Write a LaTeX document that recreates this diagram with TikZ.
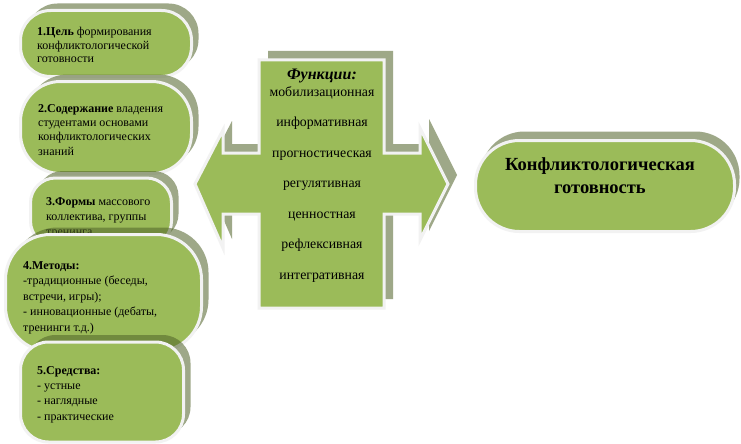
\documentclass[tikz,border=0pt]{standalone}
\usepackage{fontspec}
\setmainfont{Liberation Serif}
\usetikzlibrary{shadows}
\definecolor{boxgreen}{HTML}{9BBB59}
\definecolor{shadowgreen}{HTML}{4F6228}
\definecolor{rimgray}{HTML}{F2F2F2}
\tikzset{
  greenbox/.style={rectangle, fill=boxgreen, draw=rimgray, line width=3pt, inner sep=0pt},
  boxshadow/.style 2 args={general shadow={fill=shadowgreen, fill opacity=0.55, shadow xshift=#1, shadow yshift=#2}},
  boxtext/.style={anchor=north west, inner sep=0pt, align=left, font=\fontsize{12}{#1}\selectfont},
  crosstext/.style={anchor=base, inner sep=0pt, font=\fontsize{13.8}{16}\selectfont},
}
\begin{document}
\begin{tikzpicture}[x=1pt,y=-1pt]
\useasboundingbox[fill=white] (0,0) rectangle (741,444);

% left boxes
\node[greenbox, boxshadow={7pt}{7pt}, rounded corners=30pt, minimum width=171pt, minimum height=66pt] (b1) at (106,43.5) {};
\node[boxtext=13.5] (t1) at (37,27) {\textbf{1.Цель} формирования\\конфликтологической\\готовности};

\node[greenbox, boxshadow={7pt}{7pt}, rounded corners=40pt, minimum width=171pt, minimum height=92pt] (b2) at (106,127.5) {};
\node[boxtext=14.3] (t2) at (38,104) {\textbf{2.Содержание} владения\\студентами основами\\конфликтологических\\знаний};

\node[greenbox, boxshadow={7pt}{7pt}, rounded corners=25pt, minimum width=141pt, minimum height=68pt] (b3) at (101,212) {};
\node[boxtext=15] (t3) at (46,197) {\textbf{3.Формы} массового\\коллектива, группы\\тренинга};

\node[greenbox, boxshadow={7pt}{7pt}, rounded corners=45pt, minimum width=196pt, minimum height=117pt] (b4) at (103.5,293) {};
\node[boxtext=15.5] (t4) at (23,261) {\textbf{4.Методы:}\\-традиционные (беседы,\\встречи, игры);\\- инновационные (дебаты,\\тренинги т.д.)};

\node[greenbox, boxshadow={7pt}{7pt}, rounded corners=28pt, minimum width=163pt, minimum height=100pt] (b5) at (102,392) {};
\node[boxtext=15.3] (t5) at (37,366) {\textbf{5.Средства:}\\- устные\\- наглядные\\- практические};

% central double arrow cross
\def\crosspath{(259,60) -- (384,60) -- (384,153) -- (420,153) -- (420,128) -- (448,184) -- (420,240) -- (420,214) -- (384,214) -- (384,308) -- (259,308) -- (259,214) -- (223,214) -- (223,248) -- (195,184) -- (223,130) -- (223,153) -- (259,153) -- cycle}
\fill[shadowgreen, fill opacity=0.55, xshift=9pt, yshift=9pt] \crosspath;
\draw[fill=boxgreen, draw=rimgray, line width=3pt] \crosspath;

\node[crosstext, font=\fontsize{16}{18}\selectfont\bfseries\itshape] (fh) at (322,79) {Функции:};
\foreach \w [count=\i] in {мобилизационная,информативная,прогностическая,регулятивная,ценностная,рефлексивная,интегративная}
  \node[crosstext] (f\i) at (322,{96+30.5*(\i-1)}) {\w};

% right box
\node[greenbox, boxshadow={5pt}{9pt}, rounded corners=44pt, minimum width=259pt, minimum height=91pt] (r) at (605,186) {};
\node[anchor=north, inner sep=0pt, align=center, font=\fontsize{18.5}{23}\selectfont\bfseries] (rt) at (600,157.5) {Конфликтологическая\\готовность};
\end{tikzpicture}
\end{document}
